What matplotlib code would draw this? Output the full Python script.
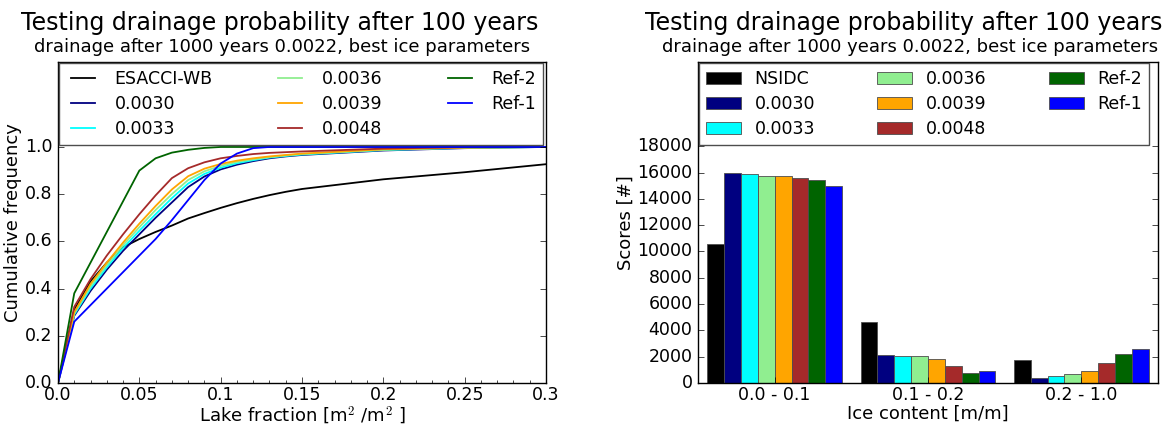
import matplotlib
matplotlib.use("Agg")
import matplotlib.pyplot as plt
import numpy as np

plt.style.use("classic")
plt.rcParams["font.family"] = ["DejaVu Sans"]

# ---------------- data: left panel (cumulative frequency) ----------------
lake_fraction = [0.0, 0.01, 0.02, 0.03, 0.04, 0.05, 0.06, 0.07, 0.08, 0.09,
                 0.10, 0.11, 0.12, 0.13, 0.14, 0.15, 0.20, 0.25, 0.30]

cum_esacci = [0.0, 0.31, 0.43, 0.51, 0.575, 0.61, 0.64, 0.667, 0.697, 0.72,
              0.742, 0.762, 0.780, 0.796, 0.810, 0.822, 0.863, 0.893, 0.927]
cum_0030 = [0.0, 0.285, 0.39, 0.48, 0.56, 0.63, 0.70, 0.765, 0.83, 0.875,
            0.905, 0.925, 0.94, 0.952, 0.96, 0.966, 0.985, 0.995, 1.0]
cum_0033 = [0.0, 0.29, 0.40, 0.49, 0.572, 0.645, 0.715, 0.783, 0.845, 0.886,
            0.912, 0.931, 0.944, 0.955, 0.962, 0.968, 0.987, 0.996, 1.0]
cum_0036 = [0.0, 0.295, 0.41, 0.50, 0.584, 0.66, 0.733, 0.80, 0.86, 0.897,
            0.92, 0.937, 0.948, 0.957, 0.964, 0.970, 0.988, 0.997, 1.0]
cum_0039 = [0.0, 0.30, 0.42, 0.51, 0.595, 0.675, 0.75, 0.82, 0.876, 0.908,
            0.928, 0.942, 0.952, 0.96, 0.966, 0.972, 0.99, 0.997, 1.0]
cum_0048 = [0.0, 0.323, 0.44, 0.54, 0.63, 0.715, 0.795, 0.868, 0.91, 0.935,
            0.952, 0.962, 0.97, 0.975, 0.978, 0.981, 0.993, 0.999, 1.0]
cum_ref2 = [0.0, 0.38, 0.51, 0.64, 0.77, 0.90, 0.952, 0.976, 0.988, 0.996,
            1.0, 1.0, 1.0, 1.0, 1.0, 1.0, 1.0, 1.0, 1.0]
cum_ref1 = [0.0, 0.26, 0.33, 0.40, 0.47, 0.54, 0.61, 0.69, 0.775, 0.86,
            0.93, 0.972, 0.995, 1.0, 1.0, 1.0, 1.0, 1.0, 1.0]

line_labels = ["ESACCI-WB", "0.0030", "0.0033", "0.0036", "0.0039", "0.0048", "Ref-2", "Ref-1"]
line_series = [cum_esacci, cum_0030, cum_0033, cum_0036, cum_0039, cum_0048, cum_ref2, cum_ref1]

# ---------------- data: right panel (scores per ice content class) ----------------
ice_classes = ["0.0 - 0.1", "0.1 - 0.2", "0.2 - 1.0"]
bar_labels = ["NSIDC", "0.0030", "0.0033", "0.0036", "0.0039", "0.0048", "Ref-2", "Ref-1"]
scores_nsidc = [10530, 4660, 1740]
scores_0030 = [15930, 2160, 380]
scores_0033 = [15850, 2090, 500]
scores_0036 = [15770, 2040, 680]
scores_0039 = [15720, 1840, 880]
scores_0048 = [15600, 1310, 1530]
scores_ref2 = [15450, 780, 2240]
scores_ref1 = [14970, 950, 2550]
bar_series = [scores_nsidc, scores_0030, scores_0033, scores_0036,
              scores_0039, scores_0048, scores_ref2, scores_ref1]

colors = ["black", "navy", "cyan", "lightgreen", "orange", "brown", "darkgreen", "blue"]

title = "Testing drainage probability after 100 years"
subtitle = "drainage after 1000 years 0.0022, best ice parameters"

# ---------------- figure ----------------
fig = plt.figure(figsize=(11.76, 4.28), dpi=100, facecolor="white")
ax1 = fig.add_axes([58/1176, 45/428, 488/1176, 321/428])
ax2 = fig.add_axes([698/1176, 45/428, 460/1176, 321/428])
for ax in (ax1, ax2):
    ax.set_facecolor("white")

legend_kw = dict(ncol=3, fontsize=12.5, borderaxespad=0.05, frameon=True,
                 fancybox=False, framealpha=1, edgecolor="0.3",
                 labelspacing=0.42, handlelength=2.0)

# left panel
for lab, ser, col in zip(line_labels, line_series, colors):
    ax1.plot(lake_fraction, ser, color=col, lw=1.3, label=lab)
ax1.set_xlim(0, 0.3)
ax1.set_ylim(0, 1.36)
ax1.set_xticks([0, 0.05, 0.1, 0.15, 0.2, 0.25, 0.3])
ax1.set_xticklabels(["0.0", "0.05", "0.1", "0.15", "0.2", "0.25", "0.3"])
ax1.set_xticks(np.arange(0, 0.301, 0.01), minor=True)
ax1.set_yticks([0, 0.2, 0.4, 0.6, 0.8, 1.0])
ax1.set_yticklabels(["0.0", "0.2", "0.4", "0.6", "0.8", "1.0"])
ax1.tick_params(labelsize=12.5)
ax1.tick_params(axis="x", pad=2)
ax1.set_xlabel(r"Lake fraction [m$^2$ /m$^2$ ]", fontsize=13, labelpad=1)
ax1.set_ylabel("Cumulative frequency", fontsize=13, labelpad=2)
ax1.legend(loc="upper left", bbox_to_anchor=(0, 1.0, 0.995, 0), mode="expand",
           columnspacing=1.0, **legend_kw)

# right panel
x = np.arange(len(ice_classes))
w = 0.11
n = len(bar_series)
for i, (lab, ser, col) in enumerate(zip(bar_labels, bar_series, colors)):
    ax2.bar(x - n * w / 2 + i * w, ser, width=w, align="edge", color=col,
            edgecolor="0.3", linewidth=0.6, label=lab)
ax2.set_xlim(-0.5, 2.5)
ax2.set_ylim(0, 24400)
ax2.set_xticks(x)
ax2.set_xticklabels(ice_classes)
ax2.set_yticks(np.arange(0, 18001, 2000))
ax2.tick_params(labelsize=12.5)
ax2.tick_params(axis="x", pad=2)
ax2.set_xlabel("Ice content [m/m]", fontsize=13, labelpad=1)
ax2.set_ylabel("Scores [#]", fontsize=13, labelpad=2)
ax2.legend(loc="upper left", bbox_to_anchor=(0, 1.0, 0.983, 0), mode="expand",
           columnspacing=1.0, **legend_kw)

# titles
fig.text(280/1176, 1 - 30/428, title, ha="center", va="baseline", fontsize=17)
fig.text(282/1176, 1 - 52/428, subtitle, ha="center", va="baseline", fontsize=13)
fig.text(904/1176, 1 - 30/428, title, ha="center", va="baseline", fontsize=17)
fig.text(910/1176, 1 - 52/428, subtitle, ha="center", va="baseline", fontsize=13)

fig.savefig("out.png", dpi=100, facecolor="white")
